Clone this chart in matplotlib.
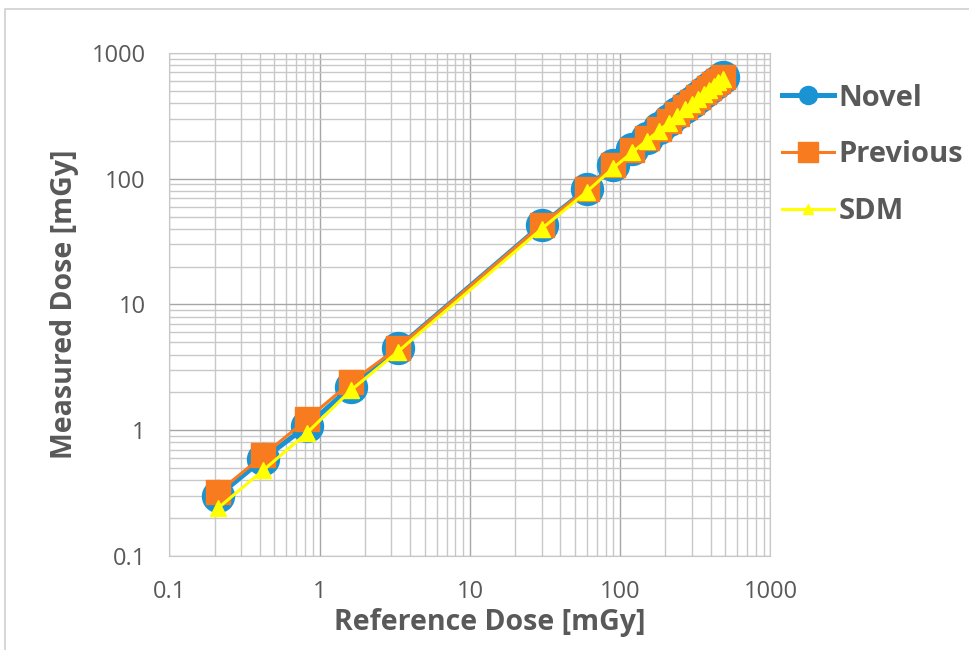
import matplotlib
matplotlib.use("Agg")
import matplotlib.pyplot as plt
from matplotlib.patches import Rectangle

# dados (mGy)
ref_dose = [0.21, 0.42, 0.82, 1.62, 3.3,
            30, 60, 90, 120, 150, 180, 210, 240, 270, 300,
            330, 360, 390, 420, 450, 480]
novel = [0.30, 0.59, 1.08, 2.22, 4.5,
         43, 83, 129, 171, 212, 252, 292, 331, 370, 409,
         448, 487, 526, 565, 604, 643]
previous = [0.32, 0.63, 1.22, 2.42, 4.5,
            43, 83, 129, 170, 210, 250, 290, 330, 369, 408,
            447, 486, 525, 563, 602, 640]
sdm = [0.24, 0.48, 0.95, 2.09, 4.2,
       40, 79, 122, 162, 201, 240, 279, 318, 356, 394,
       432, 470, 508, 546, 584, 622]

x_ticks = [0.1, 1, 10, 100, 1000]
x_tick_labels = ["0.1", "1", "10", "100", "1000"]

cor_texto = "#595959"
plt.rcParams['font.family'] = ['Open Sans', 'DejaVu Sans']

fig = plt.figure(figsize=(9.69, 6.5), dpi=100)
ax = fig.add_axes([0.1749, 0.1446, 0.6202, 0.7739])

# moldura externa do grafico
fig.patches.append(Rectangle((5 / 969, -0.01), 1.0, 1 - 9 / 650 + 0.01,
                             transform=fig.transFigure, fill=False,
                             edgecolor="#D0D0D0", linewidth=1.2))

ax.plot(ref_dose, novel, color="#1A93D3", linewidth=3.6, marker="o",
        markersize=23, label="Novel", zorder=3)
ax.plot(ref_dose, previous, color="#F97B20", linewidth=2.2, marker="s",
        markersize=17, label="Previous", zorder=4)
ax.plot(ref_dose, sdm, color="#FFFF00", linewidth=2.2, marker="^",
        markersize=11, label="SDM", zorder=5)

ax.set_xscale("log")
ax.set_yscale("log")
ax.set_xlim(0.1, 1000)
ax.set_ylim(0.1, 1000)
ax.set_xticks(x_ticks)
ax.set_xticklabels(x_tick_labels)
ax.set_yticks(x_ticks)
ax.set_yticklabels(x_tick_labels)

ax.grid(True, which="major", color="#A6A6A6", linewidth=1.0)
ax.grid(True, which="minor", color="#C8C8C8", linewidth=1.0)
ax.set_axisbelow(True)
ax.tick_params(which="both", length=0, labelsize=17, labelcolor=cor_texto, pad=17)
for s in ax.spines.values():
    s.set_color("#C8C8C8")

ax.set_xlabel("Reference Dose [mGy]", fontsize=20.5, fontweight="bold",
              color=cor_texto, labelpad=3)
ax.xaxis.label.set_x(0.533)  # titulo do eixo x um pouco deslocado p/ direita
ax.set_ylabel("Measured Dose [mGy]", fontsize=20.5, fontweight="bold",
              color=cor_texto, labelpad=9)

leg = ax.legend(loc="upper left", bbox_to_anchor=(770 / 969, 1 - 72 / 650),
                bbox_transform=fig.transFigure, frameon=False,
                handlelength=1.8, handletextpad=0.15,
                labelspacing=0.95, borderaxespad=0,
                prop={"size": 21, "weight": "bold"})
for t in leg.get_texts():
    t.set_color(cor_texto)
# marcadores menores na legenda
for h, ms in zip(leg.legend_handles, [13, 14, 7.5]):
    h.set_markersize(ms)

fig.savefig("out.png", dpi=100)
